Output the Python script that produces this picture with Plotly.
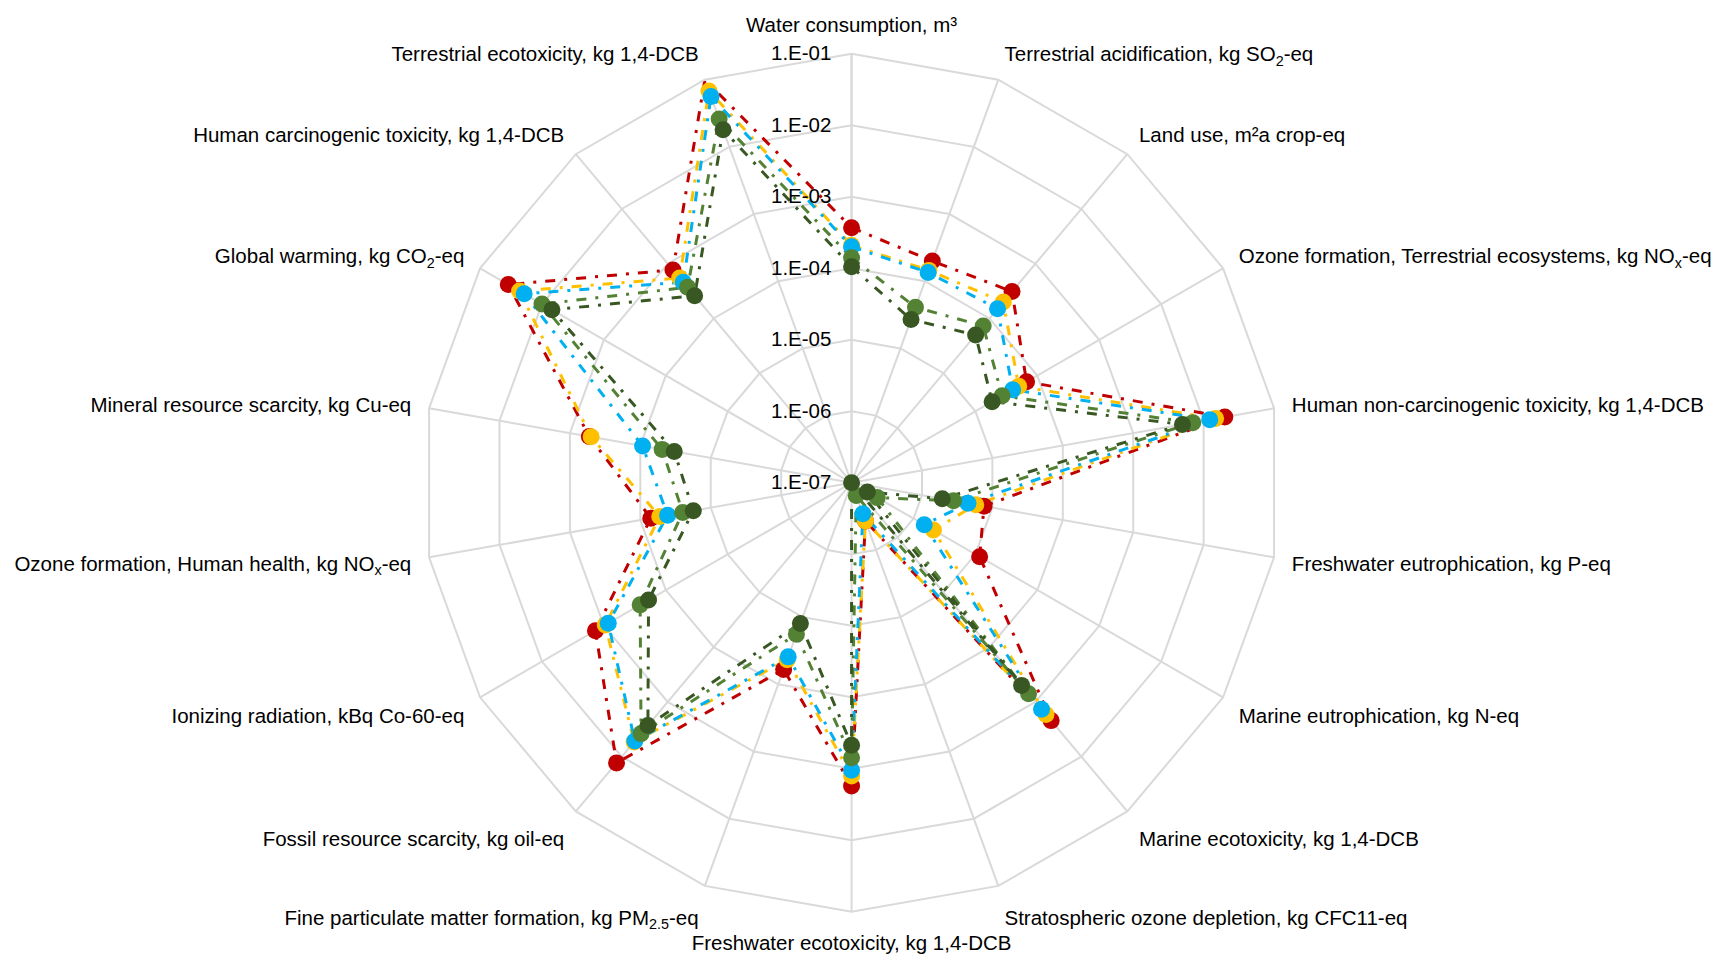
import plotly.graph_objects as go

categories = [
    "Water consumption, m³",
    "Terrestrial acidification, kg SO<sub>2</sub>-eq",
    "Land use, m²a crop-eq",
    "Ozone formation, Terrestrial ecosystems, kg NO<sub>x</sub>-eq",
    "Human non-carcinogenic toxicity, kg 1,4-DCB",
    "Freshwater eutrophication, kg P-eq",
    "Marine eutrophication, kg N-eq",
    "Marine ecotoxicity, kg 1,4-DCB",
    "Stratospheric ozone depletion, kg CFC11-eq",
    "Freshwater ecotoxicity, kg 1,4-DCB",
    "Fine particulate matter formation, kg PM<sub>2.5</sub>-eq",
    "Fossil resource scarcity, kg oil-eq",
    "Ionizing radiation, kBq Co-60-eq",
    "Ozone formation, Human health, kg NO<sub>x</sub>-eq",
    "Mineral resource scarcity, kg Cu-eq",
    "Global warming, kg CO<sub>2</sub>-eq",
    "Human carcinogenic toxicity, kg 1,4-DCB",
    "Terrestrial ecotoxicity, kg 1,4-DCB",
]

series_red = [3.7e-4, 2.0e-4, 3.1e-4, 6.7e-5, 2.0e-2, 7.6e-6, 1.17e-5, 2.2e-3, 3.7e-7,
              1.74e-3, 6.0e-5, 1.3e-2, 1.37e-3, 7.1e-5, 5.3e-4, 3.5e-2, 7.7e-4, 1.0e-1]
series_yellow = [2.1e-4, 1.45e-4, 2.0e-4, 5.0e-5, 1.48e-2, 5.8e-6, 2.1e-6, 1.7e-3, 3.7e-7,
                 1.26e-3, 4.3e-5, 5.4e-3, 9.5e-4, 5.3e-5, 5.0e-4, 2.3e-2, 5.5e-4, 6.8e-2]
series_blue = [2.0e-4, 1.35e-4, 1.5e-4, 4.0e-5, 1.22e-2, 4.5e-6, 1.49e-6, 1.36e-3, 2.9e-7,
               1.05e-3, 3.9e-5, 5.2e-3, 8.5e-4, 4.1e-5, 9.3e-5, 1.94e-2, 4.6e-4, 5.6e-2]
series_lightgreen = [1.4e-4, 4.1e-5, 7.3e-5, 2.7e-5, 7.0e-3, 2.8e-6, 2.6e-7, 7.1e-4, 1.55e-7,
                     7.0e-4, 1.8e-5, 3.8e-3, 2.6e-4, 2.5e-5, 4.9e-5, 1.0e-2, 3.7e-4, 2.6e-2]
series_darkgreen = [1.05e-4, 2.7e-5, 5.0e-5, 1.86e-5, 5.0e-3, 1.94e-6, 1.8e-7, 5.0e-4, 1.0e-7,
                    4.7e-4, 1.24e-5, 2.7e-3, 1.9e-4, 1.77e-5, 3.3e-5, 6.9e-3, 2.6e-4, 1.8e-2]

tick_values = [1e-7, 1e-6, 1e-5, 1e-4, 1e-3, 1e-2, 1e-1]
tick_labels = ["1.E-07", "1.E-06", "1.E-05", "1.E-04", "1.E-03", "1.E-02", "1.E-01"]

series = [
    (series_red, "#C00000"),
    (series_yellow, "#FFC000"),
    (series_blue, "#00B0F0"),
    (series_lightgreen, "#548235"),
    (series_darkgreen, "#385723"),
]

fig = go.Figure()
# lines on the polygon-grid polar subplot
for vals, col in series:
    fig.add_trace(go.Scatterpolar(
        r=vals + [vals[0]],
        theta=categories + [categories[0]],
        mode="lines",
        line=dict(color=col, width=3, dash="10px,9px,3px,9px"),
        showlegend=False,
        subplot="polar",
    ))
# markers on an overlaid, invisible polar subplot with the same scales
for vals, col in series:
    fig.add_trace(go.Scatterpolar(
        r=vals,
        theta=categories,
        mode="markers",
        marker=dict(color=col, size=17),
        cliponaxis=False,
        showlegend=False,
        subplot="polar2",
    ))

grid = "#D9D9D9"
dom = dict(x=[0.2410, 0.7399], y=[0.0566, 0.9522])
fsize = 20.5
fig.update_layout(
    width=1720, height=958,
    margin=dict(l=0, r=0, t=0, b=0),
    paper_bgcolor="white",
    font=dict(family="Liberation Sans, Arial, sans-serif", size=fsize, color="#000000"),
    polar=dict(
        domain=dom,
        bgcolor="white",
        gridshape="linear",
        angularaxis=dict(
            type="category",
            categoryarray=categories,
            rotation=90,
            direction="clockwise",
            showline=True, linecolor=grid, linewidth=2,
            gridcolor=grid, gridwidth=2,
            ticks="outside", ticklen=13, tickcolor="rgba(0,0,0,0)",
            tickfont=dict(size=fsize, color="#000000"),
        ),
        radialaxis=dict(
            type="log",
            range=[-7, -1],
            angle=90,
            side="counterclockwise",
            tickangle=90,
            tickmode="array",
            tickvals=tick_values,
            ticktext=tick_labels,
            ticks="outside", ticklen=12, tickcolor="rgba(0,0,0,0)",
            showline=True, linecolor=grid, linewidth=2,
            gridcolor=grid, gridwidth=2,
            tickfont=dict(size=fsize, color="#000000"),
        ),
    ),
    polar2=dict(
        domain=dom,
        bgcolor="rgba(0,0,0,0)",
        gridshape="circular",
        angularaxis=dict(
            type="category",
            categoryarray=categories,
            rotation=90,
            direction="clockwise",
            showline=False, showgrid=False, showticklabels=False, ticks="",
        ),
        radialaxis=dict(
            type="log",
            range=[-7, -1],
            angle=90,
            showline=False, showgrid=False, showticklabels=False, ticks="",
        ),
    ),
)

fig.write_html("out.html")
